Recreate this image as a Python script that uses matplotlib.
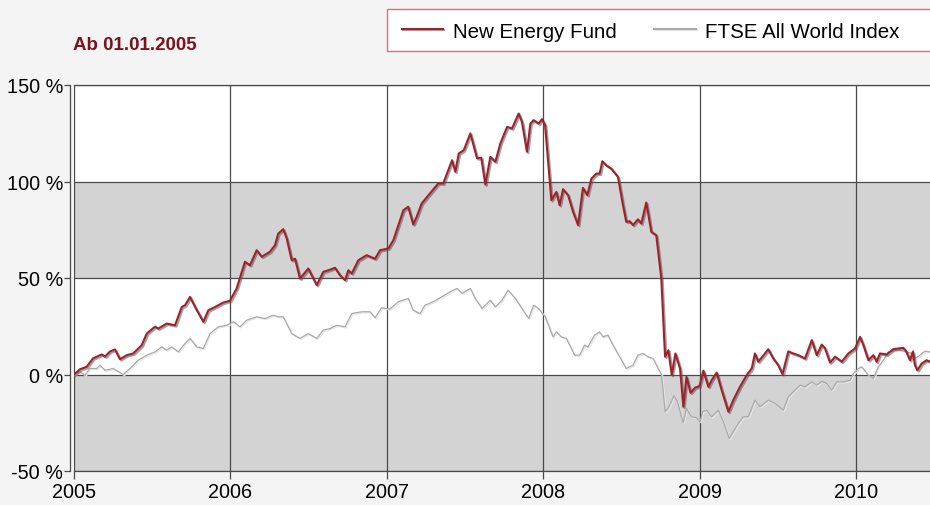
import matplotlib
matplotlib.use("Agg")
import matplotlib.pyplot as plt
import matplotlib.patheffects as pe
from matplotlib.lines import Line2D
from matplotlib.patches import Rectangle

# ---- data (decimal years, percent change since 01.01.2005) ----
fund_t = [2005.000, 2005.038, 2005.081, 2005.121, 2005.177, 2005.198, 2005.230, 2005.262, 2005.294,
          2005.337, 2005.379, 2005.433, 2005.465, 2005.518, 2005.539, 2005.593, 2005.646, 2005.689,
          2005.710, 2005.742, 2005.774, 2005.827, 2005.859, 2005.902, 2005.955, 2005.997, 2006.040,
          2006.093, 2006.125, 2006.168, 2006.200, 2006.253, 2006.285, 2006.306, 2006.338, 2006.360,
          2006.392, 2006.413, 2006.445, 2006.498, 2006.552, 2006.594, 2006.626, 2006.669, 2006.701,
          2006.733, 2006.754, 2006.776, 2006.818, 2006.871, 2006.925, 2006.957, 2007.010, 2007.042,
          2007.106, 2007.137, 2007.169, 2007.191, 2007.223, 2007.276, 2007.329, 2007.361, 2007.417,
          2007.438, 2007.460, 2007.492, 2007.534, 2007.577, 2007.604, 2007.630, 2007.662, 2007.694,
          2007.726, 2007.769, 2007.801, 2007.843, 2007.864, 2007.896, 2007.918, 2007.939, 2007.971,
          2007.992, 2008.012, 2008.052, 2008.084, 2008.105, 2008.127, 2008.159, 2008.191, 2008.223,
          2008.254, 2008.282, 2008.308, 2008.340, 2008.361, 2008.378, 2008.403, 2008.435, 2008.478,
          2008.510, 2008.531, 2008.553, 2008.574, 2008.606, 2008.627, 2008.659, 2008.691, 2008.723,
          2008.755, 2008.779, 2008.800, 2008.822, 2008.845, 2008.875, 2008.896, 2008.916, 2008.942,
          2008.971, 2008.999, 2009.024, 2009.056, 2009.077, 2009.109, 2009.141, 2009.184, 2009.215,
          2009.258, 2009.301, 2009.333, 2009.354, 2009.375, 2009.418, 2009.439, 2009.471, 2009.503,
          2009.530, 2009.567, 2009.599, 2009.631, 2009.674, 2009.717, 2009.749, 2009.781, 2009.802,
          2009.834, 2009.866, 2009.909, 2009.951, 2009.994, 2010.026, 2010.047, 2010.079, 2010.111,
          2010.132, 2010.153, 2010.196, 2010.238, 2010.271, 2010.302, 2010.320, 2010.345, 2010.363,
          2010.377, 2010.392, 2010.420, 2010.452, 2010.473]
fund_v = [0.0, 2.7, 4.0, 8.3, 10.4, 9.3, 11.9, 13.0, 7.9,
          10.0, 10.9, 15.2, 21.2, 24.8, 23.8, 26.4, 25.5, 35.0,
          35.9, 40.2, 35.0, 27.3, 33.3, 35.0, 37.3, 38.2, 44.6,
          58.4, 56.6, 64.4, 61.0, 63.6, 67.0, 73.0, 75.3, 70.5,
          59.2, 60.0, 49.7, 54.9, 46.3, 53.2, 54.0, 55.3, 51.4,
          48.9, 54.0, 52.3, 59.2, 61.8, 60.0, 64.4, 65.3, 69.6,
          85.1, 86.9, 77.7, 81.7, 88.6, 93.8, 99.0, 99.0, 111.0,
          105.0, 114.5, 116.2, 124.9, 112.0, 112.3, 98.4, 112.8, 110.2,
          119.7, 128.3, 127.5, 135.2, 130.9, 115.4, 130.0, 131.8, 130.0,
          132.3, 129.2, 90.3, 94.6, 87.7, 96.0, 92.9, 84.3, 77.4,
          96.7, 92.9, 101.5, 104.1, 104.1, 110.5, 108.4, 106.7, 102.4,
          87.7, 79.1, 79.4, 77.4, 80.4, 78.2, 89.1, 73.9, 72.2,
          49.7, 9.2, 12.6, -0.3, 10.9, 3.0, -16.7, -1.2, -9.5,
          -6.8, -6.0, 2.0, -6.4, -3.0, 1.0, -8.1, -19.3, -13.3,
          -6.4, -0.3, 3.1, 10.9, 6.6, 10.9, 13.1, 8.3, 4.8,
          0.2, 12.0, 10.9, 10.0, 8.3, 17.8, 10.0, 15.5, 13.5,
          6.2, 9.2, 6.6, 10.9, 13.5, 19.5, 15.2, 7.4, 10.0,
          6.6, 10.9, 10.4, 13.1, 13.5, 13.8, 12.1, 7.4, 11.7,
          4.8, 2.2, 5.7, 7.4, 6.6]

ftse_t = [2005.000, 2005.038, 2005.070, 2005.102, 2005.145, 2005.166, 2005.198, 2005.251, 2005.315,
          2005.358, 2005.411, 2005.465, 2005.518, 2005.561, 2005.593, 2005.625, 2005.667, 2005.710,
          2005.742, 2005.785, 2005.827, 2005.870, 2005.923, 2005.976, 2006.019, 2006.061, 2006.104,
          2006.168, 2006.221, 2006.274, 2006.306, 2006.338, 2006.392, 2006.445, 2006.498, 2006.552,
          2006.594, 2006.637, 2006.680, 2006.733, 2006.776, 2006.840, 2006.893, 2006.925, 2006.967,
          2007.020, 2007.074, 2007.137, 2007.169, 2007.212, 2007.244, 2007.297, 2007.351, 2007.404,
          2007.449, 2007.481, 2007.534, 2007.566, 2007.609, 2007.662, 2007.694, 2007.737, 2007.775,
          2007.822, 2007.864, 2007.907, 2007.939, 2007.971, 2008.012, 2008.063, 2008.084, 2008.116,
          2008.148, 2008.201, 2008.233, 2008.265, 2008.286, 2008.329, 2008.361, 2008.382, 2008.414,
          2008.435, 2008.489, 2008.531, 2008.574, 2008.606, 2008.638, 2008.670, 2008.702, 2008.756,
          2008.780, 2008.804, 2008.836, 2008.857, 2008.895, 2008.916, 2008.948, 2008.980, 2009.003,
          2009.019, 2009.045, 2009.077, 2009.120, 2009.152, 2009.190, 2009.215, 2009.247, 2009.279,
          2009.311, 2009.354, 2009.386, 2009.439, 2009.482, 2009.535, 2009.567, 2009.610, 2009.642,
          2009.674, 2009.717, 2009.749, 2009.781, 2009.813, 2009.845, 2009.877, 2009.919, 2009.962,
          2009.983, 2010.015, 2010.036, 2010.079, 2010.111, 2010.143, 2010.175, 2010.207, 2010.249,
          2010.281, 2010.324, 2010.356, 2010.366, 2010.377, 2010.409, 2010.441, 2010.473]
ftse_v = [0.0, 1.4, -0.3, 3.1, 3.1, 4.8, 2.2, 3.1, 0.0,
          3.1, 7.4, 10.0, 11.7, 14.3, 12.6, 14.3, 11.7, 16.1,
          18.7, 14.3, 13.5, 21.2, 24.7, 25.5, 27.3, 24.7, 28.1,
          29.9, 29.0, 30.7, 29.9, 29.9, 21.2, 18.7, 21.2, 18.7,
          23.0, 23.8, 25.5, 24.7, 31.6, 32.5, 32.5, 29.4, 34.6,
          33.9, 37.7, 39.4, 33.3, 31.6, 35.9, 37.7, 40.2, 42.8,
          44.6, 42.0, 44.6, 39.4, 34.2, 38.5, 35.0, 38.5, 43.7,
          39.4, 34.2, 29.0, 35.9, 34.2, 30.0, 19.5, 22.1, 19.5,
          18.7, 10.0, 10.0, 15.2, 14.3, 20.4, 22.1, 19.5, 20.4,
          16.9, 9.2, 3.1, 4.8, 10.0, 10.9, 9.2, 8.3, 0.0,
          -19.3, -16.7, -11.0, -13.7, -25.0, -17.6, -21.9, -22.4, -24.5,
          -19.3, -18.5, -21.9, -18.5, -24.5, -33.2, -29.7, -25.4, -21.9,
          -21.9, -13.3, -16.7, -13.3, -15.0, -18.5, -11.6, -8.1, -5.5,
          -6.4, -3.8, -5.5, -3.5, -4.7, -8.1, -3.8, -3.8, -3.0,
          0.5, 3.1, 4.0, -0.3, -2.1, 4.0, 7.4, 11.7, 12.6,
          12.6, 11.7, 10.9, 12.6, 8.3, 10.0, 12.1, 11.7]

years = [2005, 2006, 2007, 2008, 2009, 2010]
y_ticks = [-50, 0, 50, 100, 150]
y_labels = ["-50 %", "0 %", "50 %", "100 %", "150 %"]
series_names = ["New Energy Fund", "FTSE All World Index"]
title_text = "Ab 01.01.2005"

# ---- styling ----
FONT = "Liberation Sans"
plt.rcParams["font.family"] = [FONT, "DejaVu Sans"]
RED = "#a1212b"
GRAY = "#a9a9a9"
GRID = "#4a4a4a"
BAND = "#d3d3d3"

fig = plt.figure(figsize=(9.3, 5.06), dpi=100, facecolor="#f4f4f4")
ax = fig.add_axes([74 / 930, 34 / 506, 1 - 74 / 930, (472 - 86) / 506])
ax.set_facecolor("white")

ax.set_xlim(2005.0, 2010.473)
ax.set_ylim(-50, 150)

ax.axhspan(50, 100, color=BAND, zorder=1, lw=0)
ax.axhspan(-50, 0, color=BAND, zorder=1, lw=0)

ax.set_axisbelow("line")
ax.grid(True, color=GRID, lw=0.9)
ax.set_xticks(years)
ax.set_xticklabels([str(y) for y in years])
ax.set_yticks(y_ticks)
ax.set_yticklabels(y_labels)

ax.tick_params(axis="x", length=6, width=0.9, color=GRID, pad=2, labelsize=14.3, labelcolor="black")
ax.tick_params(axis="y", length=4, width=0.9, color=GRID, pad=1, labelsize=14.3, labelcolor="black")

for s in ["top", "bottom", "left"]:
    ax.spines[s].set_color(GRID)
    ax.spines[s].set_linewidth(0.9)
ax.spines["right"].set_visible(False)
ax.spines["left"].set_position(("outward", 3))

ftse_fx = [pe.SimpleLineShadow(offset=(0.8, -0.8), shadow_color="#e6e6e6", alpha=1.0), pe.Normal()]
fund_fx = [pe.SimpleLineShadow(offset=(1.0, -1.0), shadow_color="#555555", alpha=0.55), pe.Normal()]

ax.plot(ftse_t, ftse_v, color=GRAY, lw=0.9, zorder=3, path_effects=ftse_fx)
ax.plot(fund_t, fund_v, color=RED, lw=1.5, zorder=4, path_effects=fund_fx)

# title
fig.text(73 / 930, 1 - 50 / 506, title_text, fontsize=13.5, fontweight="bold",
         color="#7a1222", ha="left", va="baseline")

# legend box (figure coordinates)
lx0, ly0 = 387 / 930, 1 - 52 / 506
fig.patches.append(Rectangle((lx0, ly0), 1.2 - lx0, 42 / 506, transform=fig.transFigure,
                             facecolor="white", edgecolor="#c07a80", lw=1.0, zorder=5))
ly = 1 - 30 / 506
fig.lines.append(Line2D([402 / 930, 443 / 930], [ly, ly], transform=fig.transFigure,
                        color=RED, lw=1.5, zorder=6, path_effects=fund_fx))
fig.text(453 / 930, ly, series_names[0], fontsize=14.8, color="black",
         ha="left", va="center_baseline", zorder=6)
fig.lines.append(Line2D([654 / 930, 696 / 930], [ly, ly], transform=fig.transFigure,
                        color=GRAY, lw=1.5, zorder=6, path_effects=ftse_fx))
fig.text(705 / 930, ly, series_names[1], fontsize=14.8, color="black",
         ha="left", va="center_baseline", zorder=6)

fig.savefig("out.png", dpi=100, facecolor=fig.get_facecolor())
